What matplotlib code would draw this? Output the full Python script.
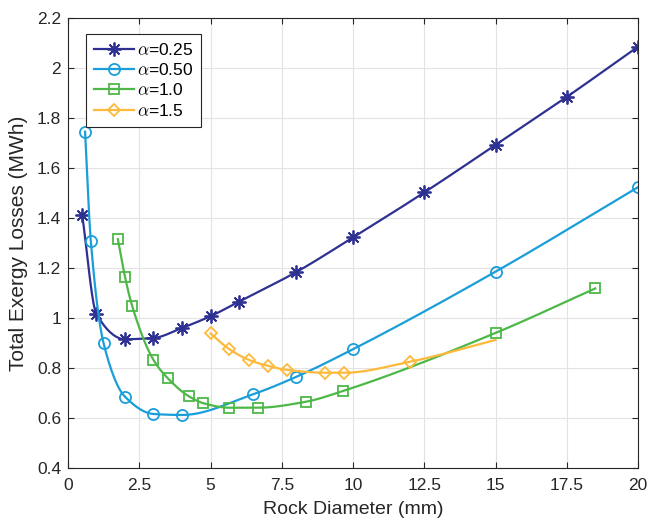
import matplotlib
matplotlib.use("Agg")
import matplotlib.pyplot as plt
import numpy as np
from matplotlib.ticker import FormatStrFormatter

plt.rcParams["font.family"] = ["Liberation Sans", "DejaVu Sans"]
plt.rcParams["mathtext.fontset"] = "cm"

# rock diameter (mm) and total exergy losses (MWh) per alpha
d_025 = [0.5, 1.0, 2.0, 3.0, 4.0, 5.0, 6.0, 8.0, 10.0, 12.5, 15.0, 17.5, 20.0]
e_025 = [1.41, 1.015, 0.915, 0.92, 0.96, 1.007, 1.065, 1.183, 1.322, 1.502, 1.692, 1.884, 2.085]

d_050 = [0.6, 0.8, 1.25, 2.0, 3.0, 4.0, 6.5, 8.0, 10.0, 15.0, 20.0]
e_050 = [1.745, 1.308, 0.898, 0.685, 0.616, 0.612, 0.695, 0.764, 0.875, 1.185, 1.523]

d_100 = [1.75, 2.0, 2.25, 3.0, 3.5, 4.25, 4.75, 5.65, 6.65, 8.35, 9.65, 15.0, 18.5]
e_100 = [1.315, 1.165, 1.048, 0.832, 0.759, 0.686, 0.659, 0.641, 0.641, 0.665, 0.708, 0.94, 1.118]

d_150 = [5.0, 5.65, 6.35, 7.0, 7.7, 9.0, 9.7, 12.0, 15.0]
e_150 = [0.938, 0.876, 0.832, 0.809, 0.792, 0.781, 0.781, 0.825, 0.912]

labels = [r"$\alpha$=0.25", r"$\alpha$=0.50", r"$\alpha$=1.0", r"$\alpha$=1.5"]


def pchip(x, y, xs):
    # monotone cubic (Fritsch-Carlson) for the smooth line through the points
    x = np.asarray(x, float)
    y = np.asarray(y, float)
    h = np.diff(x)
    delta = np.diff(y) / h
    m = np.zeros_like(y)
    for k in range(1, len(x) - 1):
        if delta[k - 1] * delta[k] > 0:
            w1 = 2 * h[k] + h[k - 1]
            w2 = h[k] + 2 * h[k - 1]
            m[k] = (w1 + w2) / (w1 / delta[k - 1] + w2 / delta[k])
    m[0] = delta[0]
    m[-1] = delta[-1]
    idx = np.clip(np.searchsorted(x, xs) - 1, 0, len(x) - 2)
    t = (xs - x[idx]) / h[idx]
    h00 = 2 * t**3 - 3 * t**2 + 1
    h10 = t**3 - 2 * t**2 + t
    h01 = -2 * t**3 + 3 * t**2
    h11 = t**3 - t**2
    return h00 * y[idx] + h10 * h[idx] * m[idx] + h01 * y[idx + 1] + h11 * h[idx] * m[idx + 1]


# the alpha=1.5 run has no marker on its last point
series = [
    (d_025, e_025, "#2e3192", (8, 2, 0), 10, None),
    (d_050, e_050, "#1a9ed9", "o", 8, None),
    (d_100, e_100, "#4db848", "s", 7, None),
    (d_150, e_150, "#fdb93a", "D", 6.5, slice(0, -1)),
]

fig = plt.figure(figsize=(6.5, 5.27), dpi=100)
ax = fig.add_axes([0.1046, 0.112, 0.877, 0.854])

for (d, e, c, mk, ms, every), lab in zip(series, labels):
    xs = np.linspace(d[0], d[-1], 400)
    ax.plot(xs, pchip(d, e, xs), color=c, lw=1.6)
    mx = d if every is None else d[every]
    my = e if every is None else e[every]
    ax.plot(mx, my, ls="none", marker=mk, ms=ms, mfc="none", mec=c, mew=1.3)
    ax.plot([], [], color=c, lw=1.6, marker=mk, ms=ms, mfc="none", mec=c, mew=1.3, label=lab)

ax.set_xlim(0, 20)
ax.set_ylim(0.4, 2.2)
ax.set_xticks(np.arange(0, 20.1, 2.5))
ax.set_yticks(np.arange(0.4, 2.21, 0.2))
ax.xaxis.set_major_formatter(FormatStrFormatter("%g"))
ax.yaxis.set_major_formatter(FormatStrFormatter("%g"))
ax.tick_params(direction="in", top=True, right=True, labelsize=12.5, colors="#262626", length=4)
ax.tick_params(axis="x", pad=7)
ax.tick_params(axis="y", pad=5)
ax.grid(True, color="#e3e3e3", lw=0.8)
ax.set_axisbelow(True)
for s in ax.spines.values():
    s.set_color("#262626")
    s.set_linewidth(0.8)

ax.set_xlabel("Rock Diameter (mm)", fontsize=14, color="#262626", labelpad=6)
ax.set_ylabel("Total Exergy Losses (MWh)", fontsize=15, color="#262626", labelpad=6)

leg = ax.legend(loc="upper left", bbox_to_anchor=(0.0316, 0.9644), borderaxespad=0,
                fontsize=12.5, handlelength=2.3, fancybox=False, framealpha=1,
                edgecolor="#262626", borderpad=0.45, labelspacing=0.25, handletextpad=0.2)
leg.get_frame().set_linewidth(0.8)

fig.savefig("out.png", dpi=100)
